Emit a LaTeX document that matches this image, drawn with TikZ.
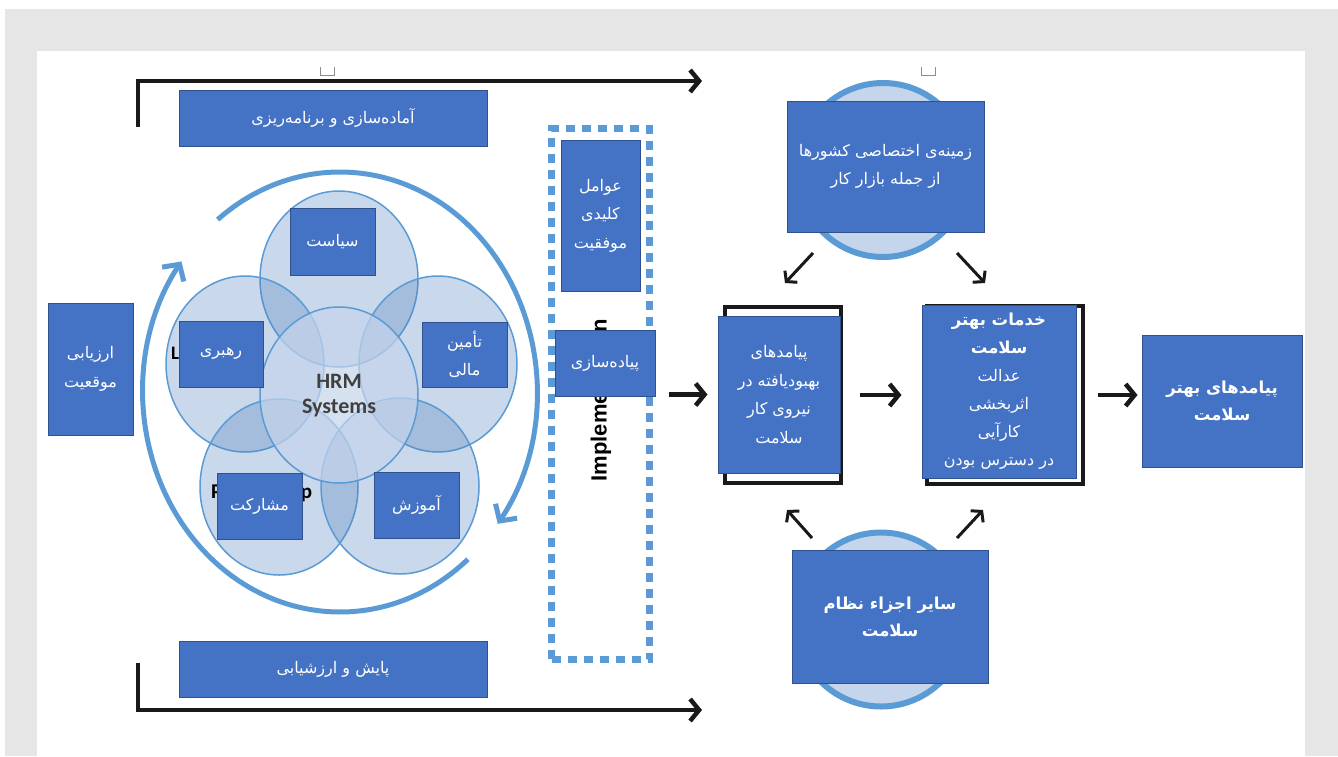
\documentclass[tikz,border=0pt]{standalone}
\usepackage{fontspec}
\usetikzlibrary{arrows.meta,shapes.geometric,calc}
\TeXXeTstate=1
\newfontfamily\arabicfont[Script=Arabic]{DejaVu Sans}
\newfontfamily\carl{Carlito}
\newfontfamily\libsans{Liberation Sans}
\newcommand{\fa}[1]{\beginR #1\endR}
\newcommand{\fab}[1]{{\bfseries\fontsize{16.5}{28}\selectfont\beginR #1\endR}}
\definecolor{boxblue}{RGB}{68,114,196}
\definecolor{boxedge}{RGB}{47,82,143}
\definecolor{lblue}{RGB}{91,155,213}
\definecolor{cfill}{RGB}{197,213,235}
\definecolor{bggray}{RGB}{231,230,230}
\definecolor{venncol}{RGB}{79,129,189}
\definecolor{hrmgray}{RGB}{64,64,64}
\begin{document}
\begin{tikzpicture}[x=1pt,y=-1pt,
  box/.style={rectangle,draw=boxedge,line width=1pt,fill=boxblue,text=white,align=center,inner sep=0pt,
    font=\arabicfont\fontsize{16}{28.5}\selectfont},
  bbox/.style={box,font=\arabicfont\bfseries\fontsize{16.5}{27}\selectfont},
  venn/.style={ellipse,draw=lblue,line width=1.5pt,fill=venncol,fill opacity=0.3,
    minimum width=158pt,minimum height=176pt,inner sep=0pt},
  vennc/.style={venn,fill=cfill,fill opacity=0.7},
  bigc/.style={ellipse,draw=lblue,line width=6pt,fill=cfill,minimum width=172pt,minimum height=174pt,inner sep=0pt},
  frame/.style={rectangle,draw=black!90,line width=4pt,fill=white,inner sep=0pt},
  dotbox/.style={rectangle,draw=lblue,line width=7pt,dash pattern=on 9pt off 7pt,inner sep=0pt},
  barr/.style={draw=black!90,line width=4.5pt,line join=miter,-{Straight Barb[length=9pt,width=22pt]}},
  darr/.style={draw=black!90,line width=3pt,-{Straight Barb[length=7pt,width=17pt]}},
  barc/.style={draw=lblue,line width=5pt,-{Straight Barb[length=12pt,width=26pt]}},
  engt/.style={inner sep=0pt,text=black,font=\carl\bfseries\fontsize{19}{22}\selectfont},
  handle/.style={draw=black!45,line width=0.8pt}
]
\useasboundingbox (0,0) rectangle (1338,756);
\fill[bggray] (5,9) rectangle (1338,756);
\fill[white] (37,51) rectangle (1305,756);

% handles
\draw[handle] (320,67) -- (320,75) -- (334,75) -- (334,67);
\draw[handle] (921,67) -- (921,75) -- (935,75) -- (935,67);

% outer frame arrows
\coordinate (ta0) at (138,127);
\coordinate (ta1) at (138,81);
\coordinate (ta2) at (702,81);
\draw[barr] (ta0) -- (ta1) -- (ta2);
\coordinate (ba0) at (138,663);
\coordinate (ba1) at (138,710);
\coordinate (ba2) at (702,710);
\draw[barr] (ba0) -- (ba1) -- (ba2);

\node[box,minimum width=308pt,minimum height=56pt] (prep) at (333,118) {\fa{آماده‌سازی و برنامه‌ریزی}};
\node[box,minimum width=308pt,minimum height=56pt] (mon) at (333,669) {\fa{پایش و ارزشیابی}};
\node[box,minimum width=85pt,minimum height=132pt] (sit) at (90.5,369) {\fa{ارزیابی}\\\fa{موقعیت}};

% cycle arcs
\coordinate (hc) at (340,392);
\draw[barc] ([shift={(128.4:197pt and 220pt)}]hc) arc[start angle=128.4,end angle=-36.8,x radius=197pt,y radius=220pt];
\draw[barc] ([shift={(-49.5:197pt and 220pt)}]hc) arc[start angle=-49.5,end angle=-216.4,x radius=197pt,y radius=220pt];

% venn circles
\node[venn] (cT) at (339,279) {};
\node[venn] (cL) at (245,364) {};
\node[venn] (cR) at (438,364) {};
\node[venn] (cBL) at (279,487) {};
\node[venn] (cBR) at (400,486) {};
\node[vennc] (cC) at (339,395) {};
\node[align=center,inner sep=0pt,text=hrmgray,font=\carl\bfseries\fontsize{22}{25}\selectfont] (hrm) at (339,396) {HRM\\Systems};
\node[engt,anchor=west] (lead) at (171,354) {Leadership};
\node[engt,anchor=west,font=\carl\bfseries\fontsize{21}{22}\selectfont] (part) at (211,493) {Partnership};

\node[box,minimum width=85pt,minimum height=67pt] (siy) at (332.5,241.5) {\fa{سیاست}};
\node[box,minimum width=84pt,minimum height=66pt] (rah) at (221,354) {\fa{رهبری}};
\node[box,minimum width=85pt,minimum height=65pt] (tam) at (464.5,354.5) {\fa{تأمین}\\\fa{مالی}};
\node[box,minimum width=85pt,minimum height=66pt] (mos) at (259.5,506) {\fa{مشارکت}};
\node[box,minimum width=85pt,minimum height=66pt] (amu) at (416.5,505) {\fa{آموزش}};

% implementation column
\node[dotbox,minimum width=98pt,minimum height=531pt] (impl) at (600.5,394) {};
\node[rotate=90,inner sep=0pt,text=black,font=\libsans\bfseries\fontsize{22}{24}\selectfont] (implt) at (601,400) {Implementation};
\node[box,minimum width=79pt,minimum height=151pt] (ava) at (600.5,215.5) {\fa{عوامل}\\\fa{کلیدی}\\\fa{موفقیت}};
\node[box,minimum width=100pt,minimum height=66pt] (pia) at (605,363) {\fa{پیاده‌سازی}};

% right part
\node[frame,minimum width=116pt,minimum height=176pt] (f1) at (783,395) {};
\node[box,minimum width=122pt,minimum height=157pt] (pw) at (779,394.5) {\fa{پیامدهای}\\\fa{بهبودیافته در}\\\fa{نیروی کار}\\\fa{سلامت}};
\node[frame,minimum width=156pt,minimum height=178pt] (f2) at (1005,395) {};
\node[box,minimum width=154pt,minimum height=173pt,font=\arabicfont\fontsize{16}{28}\selectfont] (kh) at (999,391.5)
  {\fab{خدمات بهتر}\\\fab{سلامت}\\\fa{عدالت}\\\fa{اثربخشی}\\\fa{کارآیی}\\\fa{در دسترس بودن}};
\node[bbox,minimum width=160pt,minimum height=132pt] (out) at (1222,401) {\fa{پیامدهای بهتر}\\\fa{سلامت}};

\draw[barr,shorten <=13pt,shorten >=10pt] (pia.east |- pw.west) -- (pw.west);
\draw[barr,shorten <=17pt,shorten >=20pt] (f1.east) -- (kh.west |- f1.east);
\draw[barr,shorten <=13pt,shorten >=4pt] (f2.east) -- (out.west |- f2.east);

% context circles
\node[bigc] (zc) at (883,170) {};
\node[box,minimum width=197pt,minimum height=131pt] (zam) at (885.5,166.5) {\fa{زمینه‌ی اختصاصی کشورها}\\\fa{از جمله بازار کار}};
\node[bigc] (sc) at (881,619.5) {};
\node[bbox,minimum width=196pt,minimum height=133pt] (say) at (890,616.5) {\fa{سایر اجزاء نظام}\\\fa{سلامت}};

\coordinate (d1s) at (813,253); \coordinate (d1e) at (785,283);
\coordinate (d2s) at (957,253); \coordinate (d2e) at (985,283);
\coordinate (d3s) at (812,538); \coordinate (d3e) at (787,510);
\coordinate (d4s) at (957,538); \coordinate (d4e) at (983,510);
\draw[darr] (d1s) -- (d1e);
\draw[darr] (d2s) -- (d2e);
\draw[darr] (d3s) -- (d3e);
\draw[darr] (d4s) -- (d4e);
\end{tikzpicture}
\end{document}
